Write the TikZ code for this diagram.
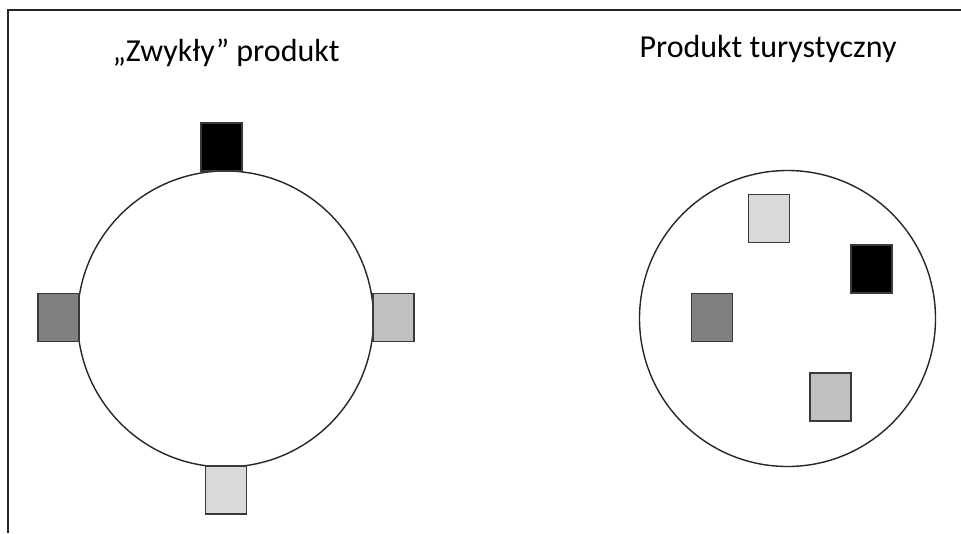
\documentclass[tikz,border=0pt]{standalone}
\usepackage{fontspec}
\setmainfont{Carlito}
\definecolor{dgray}{HTML}{808080}
\definecolor{mgray}{HTML}{C0C0C0}
\definecolor{lgray}{HTML}{D9D9D9}
\definecolor{edge}{HTML}{3A3A3A}
\begin{document}
\begin{tikzpicture}[x=1pt,y=-1pt,
  ring/.style={circle,draw=black!85,line width=1.4pt,fill=white,inner sep=0pt,minimum size=296pt},
  sq/.style={draw=edge,line width=1.4pt,inner sep=0pt,minimum width=41pt,minimum height=48pt},
  title/.style={font=\fontsize{32}{38}\selectfont,anchor=base,inner sep=0pt}]
\useasboundingbox (0,0) rectangle (961,533);
\coordinate (ftl) at (8,10);
\coordinate (ftr) at (961,10);
\coordinate (fbl) at (8,533);
\draw[line width=1.4pt,black!85] (fbl) -- (ftl) -- (ftr);
\node[title] (t1) at (226,61) {„Zwykły” produkt};
\node[title] (t2) at (768,57) {Produkt turystyczny};
% left
\node[ring] (c1) at (225.5,319) {};
\node[sq,fill=black] (a1) at (221.5,147) {};
\node[sq,fill=dgray] (a2) at (58.5,317.5) {};
\node[sq,fill=mgray] (a3) at (393.5,317.5) {};
\node[sq,fill=lgray] (a4) at (226,490) {};
% right
\node[ring] (c2) at (787.5,318.5) {};
\node[sq,fill=lgray] (b1) at (769,218.5) {};
\node[sq,fill=black] (b2) at (871.5,269) {};
\node[sq,fill=dgray] (b3) at (712,317.5) {};
\node[sq,fill=mgray] (b4) at (830.5,397) {};
\end{tikzpicture}
\end{document}
